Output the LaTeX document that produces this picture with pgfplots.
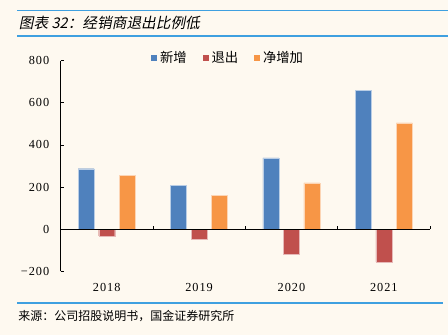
\documentclass[border=0pt]{standalone}
\usepackage{fontspec}
\usepackage{pgfplots}
\pgfplotsset{compat=1.18}
\setmainfont{Liberation Serif}
\newfontfamily\numfont[LetterSpace=8]{Liberation Serif}
\newfontfamily\cjk{Noto Sans CJK SC}
\newfontfamily\cjkit[FakeSlant=0.2]{Noto Sans CJK SC}
\definecolor{bg}{HTML}{FEF9F0}
\definecolor{cblue}{HTML}{4F81BD}
\definecolor{cred}{HTML}{C0504D}
\definecolor{corange}{HTML}{F79646}
\definecolor{lineblue}{HTML}{3FA0E0}
\begin{document}
\begin{tikzpicture}
\fill[bg] (0,0) rectangle (336pt,251.25pt);
\useasboundingbox (0,0) rectangle (336pt,251.25pt);
% header lines
\draw[lineblue,line width=0.9pt] (13pt,243.3pt) -- (336pt,243.3pt);
\draw[lineblue,line width=0.9pt] (13pt,224.3pt) -- (336pt,224.3pt);
\node[anchor=west,inner sep=0pt] at (14pt,233.8pt) {\cjkit\fontsize{11pt}{13pt}\selectfont 图表 32：经销商退出比例低};
% footer
\draw[lineblue,line width=0.9pt] (13pt,24pt) -- (332pt,24pt);
\node[anchor=west,inner sep=0pt] at (13.5pt,14.3pt) {\cjk\fontsize{9pt}{10pt}\selectfont 来源：公司招股说明书，国金证券研究所};
\begin{axis}[
  at={(45.4pt,47.8pt)}, anchor=south west,
  scale only axis, width=277.1pt, height=157.95pt,
  xmin=-0.5, xmax=3.5, ymin=-200, ymax=800,
  axis lines*=left,
  x axis line style={draw=none},
  xtick={0,1,2,3}, xticklabels={2018,2019,2020,2021},
  xtick style={draw=none},
  ytick={-200,0,200,400,600,800},
  yticklabels={−200,0,200,400,600,800},
  tick align=inside, major tick length=2.5pt,
  y axis line style={black, line width=0.6pt},
  ytick style={black, line width=0.6pt},
  /pgf/number format/assume math mode=true,
  tick label style={font=\numfont\fontsize{9.2pt}{11pt}\selectfont},
  yticklabel style={xshift=-5pt},
  xticklabel style={yshift=-3pt},
  ybar, bar width=12pt,
  legend style={at={(0.245,1.013)}, anchor=west, draw=none, fill=none,
    legend columns=3, font=\cjk\fontsize{10pt}{11pt}\selectfont,
    /tikz/every even column/.append style={column sep=10pt},
    inner sep=0pt},
  legend image code/.code={\fill[#1,draw=none] (0pt,-2.3pt) rectangle (4.6pt,2.3pt);},
  clip=false,
]
\addplot[fill=cblue, draw=white!60!cblue, line width=0.3pt, bar shift=-15.4pt] coordinates {(0,287) (1,209) (2,339) (3,660)};
\addplot[fill=cred, draw=white!60!cred, line width=0.3pt, bar shift=0pt] coordinates {(0,-32) (1,-49) (2,-119) (3,-155)};
\addplot[fill=corange, draw=white!60!corange, line width=0.3pt, bar shift=15.4pt] coordinates {(0,257) (1,162) (2,220) (3,505)};
\legend{新增,退出,净增加}
\draw[black, line width=0.6pt] (axis cs:-0.5,0) -- (axis cs:3.5,0);
\draw[black, line width=0.6pt] (axis cs:0.5,0) -- ([yshift=2.5pt]axis cs:0.5,0);
\draw[black, line width=0.6pt] (axis cs:1.5,0) -- ([yshift=2.5pt]axis cs:1.5,0);
\draw[black, line width=0.6pt] (axis cs:2.5,0) -- ([yshift=2.5pt]axis cs:2.5,0);
\draw[black, line width=0.6pt] (axis cs:3.5,0) -- ([yshift=2.5pt]axis cs:3.5,0);
\end{axis}
\end{tikzpicture}
\end{document}
